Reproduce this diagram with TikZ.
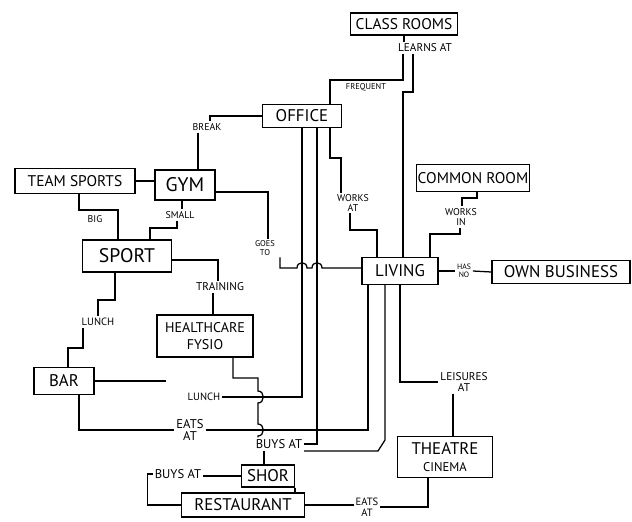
\documentclass[tikz,border=0pt]{standalone}
\usepackage{fontspec}
\setmainfont{PT Sans}
\usepackage{tikz}
\usetikzlibrary{positioning,calc}
\tikzset{
box/.style = {draw, rectangle, align=center, inner sep=0pt, font=\fontsize{11}{12}\selectfont},
rel/.style = {align=center, inner sep=1pt, font=\fontsize{#1}{#1}\selectfont},
rel/.default = 7
}

\begin{document}
\begin{tikzpicture}[x=0.025cm, y=-0.025cm, line width=0.9pt]
    \useasboundingbox (0,0) rectangle (632,521);

    % boxes
    \node [box, minimum width=2.675cm, minimum height=0.55cm] (classrooms) at (404,24) {CLASS ROOMS};
    \node [box, minimum width=1.975cm, minimum height=0.575cm, font=\fontsize{12}{13}\selectfont] (office) at (302,116) {OFFICE};
    \node [box, minimum width=3cm, minimum height=0.625cm] (teamsports) at (75,181) {TEAM SPORTS};
    \node [box, minimum width=1.5cm, minimum height=0.75cm, font=\fontsize{14}{15}\selectfont] (gym) at (185,185) {GYM};
    \node [box, minimum width=2.825cm, minimum height=0.675cm] (commonroom) at (473,178) {COMMON ROOM};
    \node [box, minimum width=2.225cm, minimum height=0.8cm, font=\fontsize{14}{15}\selectfont] (sport) at (127,256) {SPORT};
    \node [box, minimum width=1.9cm, minimum height=0.675cm, font=\fontsize{12}{13}\selectfont] (living) at (400,271) {LIVING};
    \node [box, minimum width=3.45cm, minimum height=0.575cm, font=\fontsize{12}{13}\selectfont] (ownbusiness) at (561,272) {OWN BUSINESS};
    \node [box, minimum width=2.4cm, minimum height=1.05cm, font=\fontsize{10}{12}\selectfont] (healthcare) at (205,336) {HEALTHCARE\\FYSIO};
    \node [box, minimum width=1.5cm, minimum height=0.675cm, font=\fontsize{12}{13}\selectfont] (bar) at (64,381) {BAR};
    \node [box, minimum width=2.375cm, minimum height=1.025cm, font=\fontsize{12}{12}\selectfont] (theatre) at (445,457) {THEATRE\\{\fontsize{9}{10}\selectfont CINEMA}};
    \node [box, minimum width=1.325cm, minimum height=0.55cm, font=\fontsize{12}{13}\selectfont] (shor) at (268,476) {SHOR};
    \node [box, minimum width=3.075cm, minimum height=0.6cm, font=\fontsize{12}{13}\selectfont] (restaurant) at (243,505) {RESTAURANT};

    % relations
    \node [rel=8] (learns) at (425,48) {LEARNS AT};
    \node [rel=6] (frequent) at (366,87) {FREQUENT};
    \node [rel] (brk) at (207,127) {BREAK};
    \node [rel] (big) at (95,219) {BIG};
    \node [rel] (small) at (180,215) {SMALL};
    \node [rel=6] (goes) at (265,248) {GOES\\TO};
    \node [rel] (worksat) at (353,203) {WORKS\\AT};
    \node [rel] (worksin) at (461,217) {WORKS\\IN};
    \node [rel=5.5] (hasno) at (464,271) {HAS\\NO};
    \node [rel=8] (training) at (220,287) {TRAINING};
    \node [rel=7.5] (lunch1) at (98,322) {LUNCH};
    \node [rel=7.5] (lunch2) at (204,397) {LUNCH};
    \node [rel=9] (eats1) at (190,430) {EATS\\AT};
    \node [rel=9] (buysat1) at (279,444) {BUYS AT};
    \node [rel=9] (buysat2) at (178,474) {BUYS AT};
    \node [rel=8] (leisures) at (464,382) {LEISURES\\AT};
    \node [rel=7.5] (eats2) at (367,507) {EATS\\AT};

    % top part
    \draw (classrooms.south) -- (classrooms.south |- learns.north);
    \draw (403,0 |- learns.south) -- (403,80) -| (330,0 |- office.north);
    \draw (413,0 |- learns.south) -- (413,92) -- (403,92) -- (403,0 |- living.north);
    \draw (office.west) -- (210,0 |- office.west) -- (210,0 |- brk.north);
    \draw (198,0 |- brk.south) -- (198,0 |- gym.north);
    \draw (teamsports.east) -- (teamsports.east -| gym.west);
    \draw (79,0 |- teamsports.south) |- (118,210) -- (118,0 |- sport.north);
    \draw (182,0 |- gym.south) -- (182,0 |- small.north);
    \draw (177,0 |- small.south) |- (150,228) -- (150,0 |- sport.north);
    \draw (gym.east |- 0,192) -| (268,0 |- goes.north);
    \draw (280,0 |- goes.south) |- (297,268) .. controls (297,261) and (307,261) .. (307,268)
      -- (312,268) .. controls (312,261) and (322,261) .. (322,268) -- (living.west |- 0,268);

    % office and living
    \draw (330,0 |- office.south) -- (330,158) -| (341,0 |- worksat.north);
    \draw (350,0 |- worksat.south) |- (377,230) -- (377,0 |- living.north);
    \draw (477,0 |- commonroom.south) |- (462,198) -- (462,0 |- worksin.north);
    \draw (460,0 |- worksin.south) |- (430,234) -- (430,0 |- living.north);
    \draw (living.east) -- (hasno.west);
    \draw (hasno.east) -- (ownbusiness.west);
    \draw (302,0 |- office.south) -- (302,0 |- lunch2.east) -- (lunch2.east);
    \draw (317,0 |- office.south) -- (317,0 |- buysat1.east) -- (buysat1.east);
    \draw (385,0 |- living.south) -- (385,440) -- (378,451) -- (buysat1.east |- 0,451);
    \draw (400,0 |- living.south) |- (leisures.west);
    \draw (453,0 |- leisures.south) -- (453,0 |- theatre.north);

    % sport side
    \draw (sport.east |- 0,260) -| (218,0 |- training.north);
    \draw (213,0 |- training.south) -- (213,0 |- healthcare.north);
    \draw (115,0 |- sport.south) |- (98,300) -- (98,0 |- lunch1.north);
    \draw (83,0 |- lunch1.south) |- (68,348) -- (68,0 |- bar.north);
    \draw (bar.east) -- ([xshift=-0.5cm]bar.east -| lunch2.west);
    \draw (79,0 |- bar.south) |- (eats1.west);
    \draw (eats1.east) -- (368,0 |- eats1.east) -- (368,0 |- living.south);
    \draw (233,0 |- healthcare.south) |- (258,378) -- (258,391) .. controls (265,391) and (265,403) .. (258,403)
      -- (258,424) .. controls (265,424) and (265,436) .. (258,436) -- (258,0 |- buysat1.north);

    % bottom
    \draw (264,0 |- buysat1.south) -- (264,0 |- shor.north);
    \draw (shor.west) -- (shor.west -| buysat2.east);
    \draw (buysat2.west) -- ++(-5,0) |- (restaurant.west);
    \draw (295,0 |- shor.south) -- (295,0 |- restaurant.north);
    \draw (restaurant.east) -- (restaurant.east -| eats2.west);
    \draw (eats2.east) -| (428,0 |- theatre.south);

\end{tikzpicture}
\end{document}
